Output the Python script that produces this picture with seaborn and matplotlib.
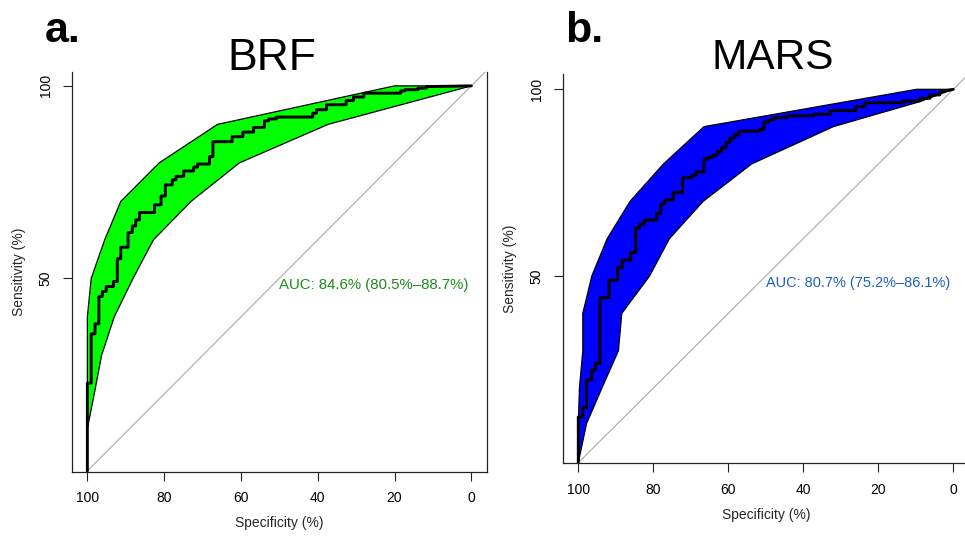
import matplotlib
matplotlib.use("Agg")
import matplotlib.pyplot as plt
import seaborn as sns
import pandas as pd

# ---------------- data ----------------
tick_x = [100, 80, 60, 40, 20, 0]
tick_y = [50, 100]

# BRF ROC curve (specificity %, sensitivity %)
brf_spec = [100, 100, 99.0, 99.0, 98.0, 98.0, 97.0, 97.0, 96.1, 96.1, 95.1, 95.1,
            93.2, 93.2, 92.2, 92.2, 91.3, 91.3, 89.4, 89.4, 88.3, 88.3, 87.4, 87.4,
            86.4, 86.4, 82.5, 82.5, 80.8, 80.8, 79.7, 79.7, 77.9, 77.9, 76.9, 76.9,
            74.9, 74.9, 72.3, 72.3, 71.3, 71.3, 68.2, 68.2, 67.3, 67.3, 62.3, 62.3,
            59.5, 59.5, 56.7, 56.7, 53.9, 53.9, 52.8, 52.8, 50.8, 50.8, 41.3, 41.3,
            40.3, 40.3, 37.7, 37.7, 32.6, 32.6, 30.7, 30.7, 28.0, 28.0, 18.4, 18.4,
            17.3, 17.3, 13.9, 13.9, 11.7, 11.7, 0]
brf_sens = [0, 22.8, 22.8, 35.6, 35.6, 38.2, 38.2, 45.3, 45.3, 46.6, 46.6, 47.9,
            47.9, 49.2, 49.2, 55.1, 55.1, 58.1, 58.1, 61.9, 61.9, 63.6, 63.6, 65.2,
            65.2, 67.1, 67.1, 69.1, 69.1, 71.4, 71.4, 74.3, 74.3, 75.6, 75.6, 76.5,
            76.5, 77.9, 77.9, 78.9, 78.9, 79.7, 79.7, 81.6, 81.6, 85.5, 85.5, 86.8,
            86.8, 88.0, 88.0, 89.2, 89.2, 90.9, 90.9, 91.4, 91.4, 91.9, 91.9, 92.9,
            92.9, 93.8, 93.8, 95.1, 95.1, 96.2, 96.2, 97.1, 97.1, 98.1, 98.1, 98.7,
            98.7, 99.0, 99.0, 99.4, 99.4, 99.8, 100]

# BRF confidence band polygon (upper edge then lower edge back)
brf_band_spec = [100, 100, 99.0, 95.5, 91.3, 81.3, 66.1, 20.0, 0,
                 37.3, 60.4, 73.0, 82.8, 88.1, 93.0, 96.3, 98.2, 100, 100]
brf_band_sens = [0, 40, 50, 60, 70, 80, 90, 100, 100,
                 90, 80, 70, 60, 50, 40, 30, 20, 11, 0]

# MARS ROC curve
mars_spec = [100, 100, 98.8, 98.8, 97.8, 97.8, 96.4, 96.4, 95.4, 95.4, 94.2, 94.2,
             91.8, 91.8, 89.5, 89.5, 88.3, 88.3, 86.0, 86.0, 84.7, 84.7, 83.7, 83.7,
             82.4, 82.4, 79.1, 79.1, 78.0, 78.0, 76.9, 76.9, 74.7, 74.7, 72.2, 72.2,
             69.8, 69.8, 68.7, 68.7, 66.5, 66.5, 65.5, 65.5, 64.0, 64.0, 62.9, 62.9,
             61.8, 61.8, 60.6, 60.6, 59.6, 59.6, 58.4, 58.4, 57.2, 57.2, 51.6, 51.6,
             50.5, 50.5, 49.3, 49.3, 47.8, 47.8, 44.4, 44.4, 37.3, 37.3, 32.9, 32.9,
             26.0, 26.0, 23.6, 23.6, 13.3, 13.3, 8.9, 8.9, 6.2, 6.2, 3.6, 3.6, 0]
mars_sens = [0, 12.3, 12.3, 14.8, 14.8, 22.1, 22.1, 24.8, 24.8, 26.6, 26.6, 44.2,
             44.2, 48.9, 48.9, 52.3, 52.3, 54.3, 54.3, 56.3, 56.3, 62.8, 62.8, 63.9,
             63.9, 65.0, 65.0, 66.8, 66.8, 69.3, 69.3, 70.4, 70.4, 72.4, 72.4, 76.3,
             76.3, 76.9, 76.9, 77.9, 77.9, 81.3, 81.3, 81.8, 81.8, 82.4, 82.4, 83.3,
             83.3, 84.4, 84.4, 85.8, 85.8, 86.9, 86.9, 87.8, 87.8, 88.8, 88.8, 89.3,
             89.3, 91.2, 91.2, 91.8, 91.8, 92.4, 92.4, 92.9, 92.9, 93.3, 93.3, 94.3,
             94.3, 95.4, 95.4, 96.4, 96.4, 96.9, 96.9, 97.6, 97.6, 98.5, 98.5, 99.3, 100]

mars_band_spec = [100, 100, 99.7, 98.8, 98.8, 96.4, 92.3, 86.2, 77.3, 66.5, 9.8, 0,
                  8.9, 32.0, 53.8, 66.7, 75.7, 81.0, 88.4, 89.3, 93.7, 97.8, 100]
mars_band_sens = [0, 10, 20, 30, 40, 50, 60, 70, 80, 90, 100, 100,
                  96.7, 90, 80, 70, 60, 50, 40, 30, 20, 10.5, 0]

panels = [
    dict(letter="a.", title="BRF", spec=brf_spec, sens=brf_sens,
         bspec=brf_band_spec, bsens=brf_band_sens, fill="#00FF00",
         auc="AUC: 84.6% (80.5%\u201388.7%)", auc_col="#1E8B1E"),
    dict(letter="b.", title="MARS", spec=mars_spec, sens=mars_sens,
         bspec=mars_band_spec, bsens=mars_band_sens, fill="#0000FF",
         auc="AUC: 80.7% (75.2%\u201386.1%)", auc_col="#1F5FC4"),
]

# ---------------- drawing ----------------
sns.set_style("ticks")
plt.rcParams["font.family"] = ["Liberation Sans", "DejaVu Sans"]

W, H = 965, 536
fig = plt.figure(figsize=(W / 100, H / 100), dpi=100)

# axes boxes in pixels: (left, top, right, bottom)
boxes = [(72.0, 72.0, 486.7, 471.7), (563.3, 74.0, 968.3, 463.3)]
ylims = [(-0.2, 103.6), (-0.15, 104.1)]
title_pos = [(271.5, 70), (773, 69)]
title_size = [32, 30.5]
letter_pos = [(45, 42), (565, 42)]
auc_size = [10.8, 10.45]

for i, p in enumerate(panels):
    l, t, r, b = boxes[i]
    ax = fig.add_axes([l / W, 1 - b / H, (r - l) / W, (b - t) / H])
    ax.set_xlim(104, -4)
    ax.set_ylim(*ylims[i])

    # identity line
    ax.axline((100, 0), (0, 100), color="#A9A9A9", lw=0.8, zorder=1)
    # CI band
    band = pd.DataFrame({"spec": p["bspec"], "sens": p["bsens"]})
    ax.fill(band["spec"], band["sens"], facecolor=p["fill"], edgecolor="black",
            lw=0.9, zorder=2)
    # ROC curve
    roc = pd.DataFrame({"spec": p["spec"], "sens": p["sens"]})
    sns.lineplot(data=roc, x="spec", y="sens", sort=False, estimator=None,
                 color="black", lw=2.1, ax=ax, zorder=3)

    ax.text(50, 50, p["auc"], ha="left", va="top", color=p["auc_col"],
            fontsize=auc_size[i], zorder=4)

    ax.set_xticks(tick_x)
    ax.set_xticklabels([str(v) for v in tick_x])
    ax.set_yticks(tick_y)
    ax.set_yticklabels([str(v) for v in tick_y], rotation=90, va="center")
    ax.tick_params(axis="both", length=6.5, width=0.8, color="#222222",
                   labelsize=10, pad=7.5, labelcolor="black")
    ax.set_xlabel("Specificity (%)", fontsize=10, labelpad=8)
    ax.set_ylabel("Sensitivity (%)", fontsize=10, labelpad=9)
    for s in ["left", "bottom", "right"]:
        ax.spines[s].set_visible(True)
        ax.spines[s].set_linewidth(0.9)
        ax.spines[s].set_color("#222222")
    ax.spines["top"].set_visible(False)

    tx, ty = title_pos[i]
    fig.text(tx / W, 1 - ty / H, p["title"], ha="center", va="baseline",
             fontsize=title_size[i], color="black")
    lx, ly = letter_pos[i]
    fig.text(lx / W, 1 - ly / H, p["letter"], ha="left", va="baseline",
             fontsize=31, fontweight="bold", color="black")

fig.savefig("out.png", dpi=100)
